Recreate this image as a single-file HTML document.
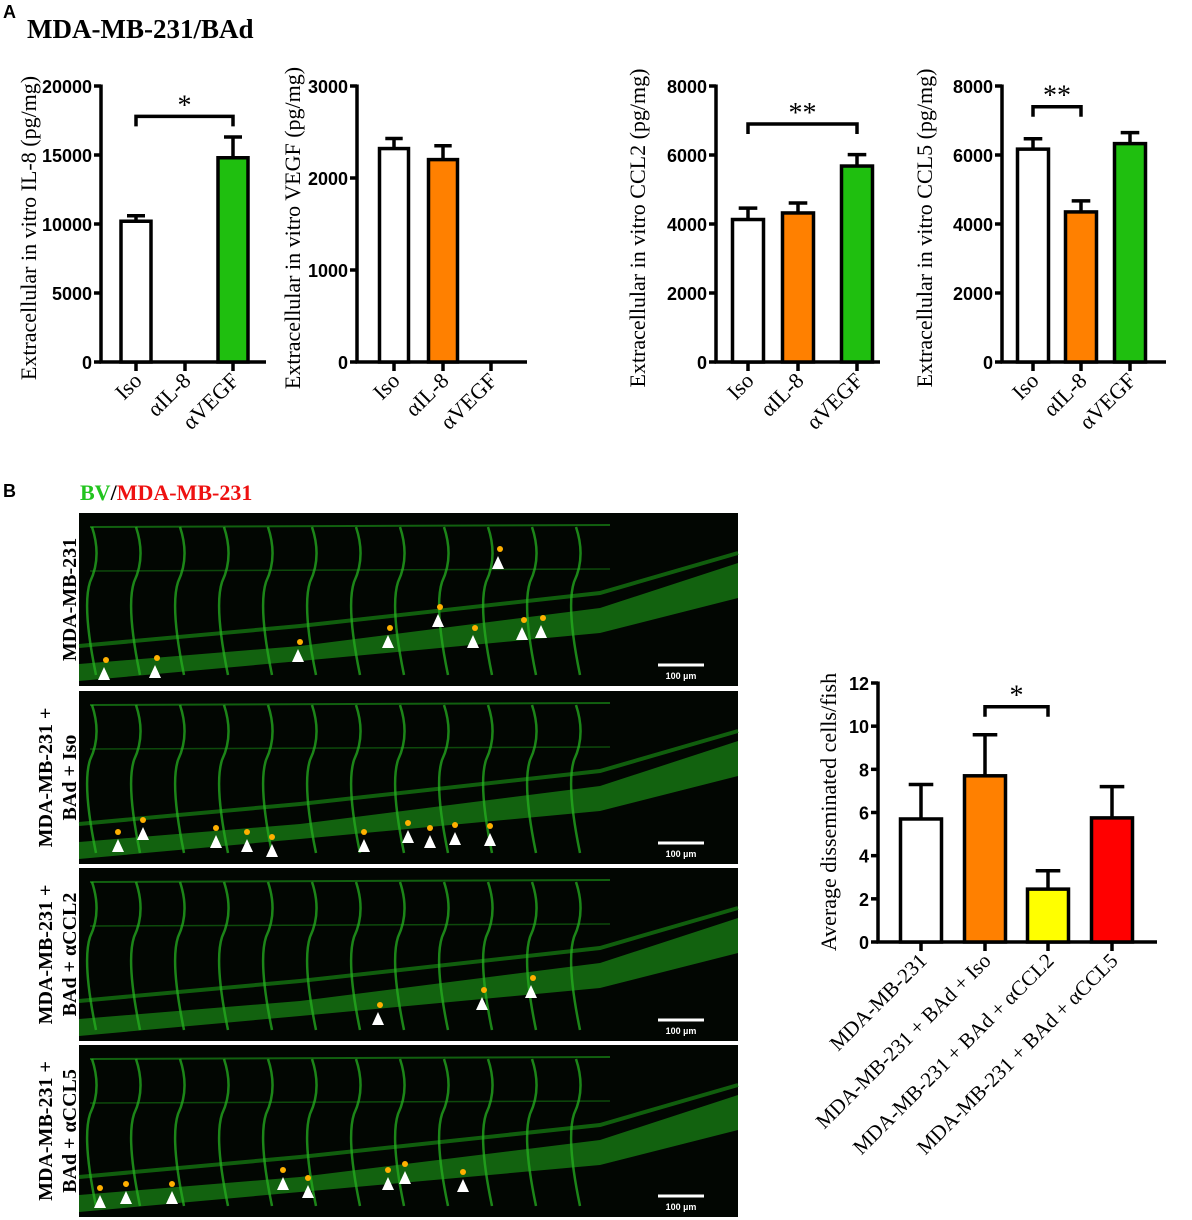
<!DOCTYPE html>
<html><head><meta charset="utf-8">
<style>
html,body{margin:0;padding:0;background:#fff;}
svg{display:block;}
.tick{font-family:"Liberation Sans",Arial,sans-serif;font-weight:bold;font-size:18px;}
.ser{font-family:"Liberation Serif","Times New Roman",serif;}
</style></head>
<body>
<svg id="fig" width="1192" height="1220" viewBox="0 0 1192 1220" xmlns="http://www.w3.org/2000/svg">
<text x="3" y="18" class="tick" font-size="15">A</text>
<text x="27" y="38" class="ser" font-size="27" font-weight="bold">MDA-MB-231/BAd</text>
<text x="3" y="497" class="tick" font-size="16">B</text>
<text x="80" y="500" class="ser" font-size="22" font-weight="bold"><tspan fill="#22c41e">BV</tspan><tspan fill="#000">/</tspan><tspan fill="#ee1111">MDA-MB-231</tspan></text>
<g id="charts"></g>
<g id="fish"></g>
</svg>
<script>
// Chart data
const catsA = ["Iso", "\u03b1IL-8", "\u03b1VEGF"];
const il8Vals = [10200, 0, 14800];
const il8Err = [400, 0, 1500];
const il8Ticks = [0, 5000, 10000, 15000, 20000];
const vegfVals = [2320, 2200, 0];
const vegfErr = [110, 150, 0];
const vegfTicks = [0, 1000, 2000, 3000];
const ccl2Vals = [4130, 4320, 5680];
const ccl2Err = [330, 290, 330];
const ccl5Vals = [6170, 4350, 6330];
const ccl5Err = [300, 320, 320];
const ccTicks = [0, 2000, 4000, 6000, 8000];
const catsB = ["MDA-MB-231", "MDA-MB-231 + BAd + Iso", "MDA-MB-231 + BAd + \u03b1CCL2", "MDA-MB-231 + BAd + \u03b1CCL5"];
const dissVals = [5.7, 7.7, 2.45, 5.75];
const dissErr = [1.6, 1.9, 0.85, 1.45];
const dissTicks = [0, 2, 4, 6, 8, 10, 12];

const NS = "http://www.w3.org/2000/svg";
const root = document.getElementById("charts");
function mk(tag, attrs, parent, txt) {
  const e = document.createElementNS(NS, tag);
  for (const k in attrs) e.setAttribute(k, attrs[k]);
  if (txt !== undefined) e.textContent = txt;
  (parent || root).appendChild(e);
  return e;
}

function chart(cfg) {
  const g = mk("g", {});
  
  
  const max = cfg.ticks[cfg.ticks.length - 1];
  const y = v => cfg.y0 - (v / max) * (cfg.y0 - cfg.yTop);
  const x = i => cfg.centers[i];
  const ax = mk("line", {x1: cfg.ax, x2: cfg.ax, y1: cfg.yTop - 1.5, y2: cfg.y0 + 1.5, stroke: "#000", "stroke-width": 3.5}, g);
  
  
  const xa = mk("line", {x1: cfg.ax - 1.5, x2: cfg.axEnd, y1: cfg.y0, y2: cfg.y0, stroke: "#000", "stroke-width": 3.5}, g);
  
  
  cfg.ticks.forEach(t => {
    mk("line", {x1: cfg.ax - 7, x2: cfg.ax, y1: y(t), y2: y(t), stroke: "#000", "stroke-width": 3.5}, g);
    const tl = mk("text", {x: cfg.ax - 9, y: y(t) + 7, "text-anchor": "end", class: "tick"}, g, String(t));
    
    
  });
  const yt = mk("text", {x: 0, y: 0, "text-anchor": "middle", class: "ser", "font-size": cfg.titleSize || 22,
    transform: `translate(${cfg.titleX},${cfg.titleY}) rotate(-90)`}, g, cfg.title);
  
  
  cfg.vals.forEach((v, i) => {
    mk("line", {x1: x(i), x2: x(i), y1: cfg.y0, y2: cfg.y0 + 9, stroke: "#000", "stroke-width": 3.5}, g);
    if (v > 0) {
      const top = y(v + cfg.err[i]);
      mk("line", {x1: x(i), x2: x(i), y1: y(v), y2: top, stroke: "#000", "stroke-width": 3.5}, g);
      mk("line", {x1: x(i) - cfg.bw * 0.3, x2: x(i) + cfg.bw * 0.3, y1: top, y2: top, stroke: "#000", "stroke-width": 3.5}, g);
      const b = mk("rect", {x: x(i) - cfg.bw / 2, y: y(v), width: cfg.bw, height: cfg.y0 - y(v), fill: cfg.colors[i], stroke: "#000", "stroke-width": 3.5}, g);
      
      
    }
    const lx = x(i) + 7, ly = cfg.y0 + cfg.labOff;
    const cl = mk("text", {x: lx, y: ly, "text-anchor": "end", class: "ser", "font-size": cfg.catSize || 22,
      transform: `rotate(-45 ${lx} ${ly})`}, g, cfg.cats[i]);
    
    
  });
  if (cfg.sig) {
    const [a, b2, yv, lab] = cfg.sig;
    const by = y(yv);
    mk("path", {d: `M${x(a)},${by + 10} V${by} H${x(b2)} V${by + 10}`, fill: "none", stroke: "#000", "stroke-width": 3.5}, g);
    const s = mk("text", {x: (x(a) + x(b2)) / 2, y: by - 2, "text-anchor": "middle", class: "ser", "font-size": 28}, g, lab);
    
    
  }
}

chart({name: "il8-chart", ax: 101, axEnd: 266, yTop: 86, y0: 362, ticks: il8Ticks, vals: il8Vals, err: il8Err,
  centers: [136, 185, 233], bw: 30, colors: ["#fff", "#ff8000", "#1fbf0f"], cats: catsA,
  title: "Extracellular in vitro IL-8 (pg/mg)", titleX: 36, titleY: 228, labOff: 20, sig: [0, 2, 17800, "*"]});
chart({name: "vegf-chart", ax: 357, axEnd: 527, yTop: 86, y0: 362, ticks: vegfTicks, vals: vegfVals, err: vegfErr,
  centers: [394, 443, 491], bw: 29, colors: ["#fff", "#ff8000", "#1fbf0f"], cats: catsA,
  title: "Extracellular in vitro VEGF (pg/mg)", titleX: 300, titleY: 228, labOff: 20});
chart({name: "ccl2-chart", ax: 716, axEnd: 880, yTop: 86, y0: 362, ticks: ccTicks, vals: ccl2Vals, err: ccl2Err,
  centers: [748, 798, 857], bw: 31, colors: ["#fff", "#ff8000", "#1fbf0f"], cats: catsA,
  title: "Extracellular in vitro CCL2 (pg/mg)", titleX: 645, titleY: 228, labOff: 20, sig: [0, 2, 6900, "**"]});
chart({name: "ccl5-chart", ax: 1002, axEnd: 1166, yTop: 86, y0: 362, ticks: ccTicks, vals: ccl5Vals, err: ccl5Err,
  centers: [1033, 1081, 1130], bw: 31, colors: ["#fff", "#ff8000", "#1fbf0f"], cats: catsA,
  title: "Extracellular in vitro CCL5 (pg/mg)", titleX: 932, titleY: 228, labOff: 20, sig: [0, 1, 7400, "**"]});
chart({name: "disseminated-chart", ax: 878, axEnd: 1157, yTop: 683, y0: 942, ticks: dissTicks, vals: dissVals, err: dissErr,
  centers: [921, 985, 1048, 1112], bw: 41, colors: ["#fff", "#ff8000", "#ffff00", "#ff0000"], cats: catsB,
  title: "Average disseminated cells/fish", titleX: 836, titleY: 812, titleSize: 22, catSize: 21, labOff: 20, sig: [1, 2, 10.9, "*"]});

// Microscopy panels (illustrative)
const fish = document.getElementById("fish");
const panels = [
  {y: 513, h: 173, label: ["MDA-MB-231"], arrows: [[104,680,1],[155,678,1],[298,662,0],[388,648,0],[438,627,0],[473,648,0],[522,640,0],[541,638,0],[498,569,0]]},
  {y: 691, h: 173, label: ["MDA-MB-231 +", "BAd + Iso"], arrows: [[118,852,0],[143,840,0],[216,848,1],[247,852,0],[272,857,0],[364,852,0],[408,843,0],[430,848,0],[455,845,0],[490,846,0]]},
  {y: 868, h: 173, label: ["MDA-MB-231 +", "BAd + \u03b1CCL2"], arrows: [[378,1025,0],[482,1010,0],[531,998,0]]},
  {y: 1045, h: 172, label: ["MDA-MB-231 +", "BAd + \u03b1CCL5"], arrows: [[100,1208,1],[126,1204,0],[172,1204,0],[283,1190,0],[308,1198,0],[388,1190,0],[405,1184,0],[463,1192,0]]}
];
panels.forEach((p, k) => {
  const g = mk("g", {}, fish);
  
  
  mk("rect", {x: 79, y: p.y, width: 659, height: p.h, fill: "#020602"}, g);
  const t = p.y, b = p.y + p.h;
  mk("path", {d: `M79,${b-22} L300,${b-40} L600,${t+95} L738,${t+50} L738,${t+85} L600,${t+120} L300,${b-25} L79,${b-5} Z`, fill: "#1a8a16", opacity: 0.7}, g);
  mk("path", {d: `M79,${b-40} L300,${b-60} L600,${t+80} L738,${t+40}`, fill: "none", stroke: "#1b9a16", "stroke-width": 4, opacity: 0.6}, g);
  mk("line", {x1: 90, x2: 610, y1: t+14, y2: t+12, stroke: "#1c9c18", "stroke-width": 2, opacity: 0.6}, g);
  mk("line", {x1: 90, x2: 610, y1: t+58, y2: t+56, stroke: "#1c9c18", "stroke-width": 1.5, opacity: 0.45}, g);
  for (let vx = 92; vx < 620; vx += 44) {
    mk("path", {d: `M${vx},${t+14} q10,30 -2,55 q-8,25 6,${p.h-80}`, fill: "none", stroke: "#25b020", "stroke-width": 2.5, opacity: 0.75}, g);
  }
  p.arrows.forEach(a => {
    const [ax, ay] = a;
    mk("circle", {cx: ax + (k % 2 ? 0 : 2), cy: ay - 20, r: 3, fill: "#ffb000"}, g);
    mk("path", {d: `M${ax-6},${ay} L${ax},${ay-13} L${ax+6},${ay} Z`, fill: "#fff"}, g);
  });
  mk("line", {x1: 658, x2: 704, y1: b-21, y2: b-21, stroke: "#fff", "stroke-width": 3}, g);
  const sb = mk("text", {x: 681, y: b-7, "text-anchor": "middle", fill: "#fff", "font-size": 9, class: "tick", style: "font-size:9px"}, g, "100 \u00b5m");
  
  
  const cy = t + p.h / 2;
  const tx = p.label.length === 1 ? 76 : 52;
  const lt = mk("text", {x: 0, y: 0, "text-anchor": "middle", class: "ser", "font-size": 20, "font-weight": "bold",
    transform: `translate(${tx},${cy}) rotate(-90)`}, g);
  
  
  p.label.forEach((s, i) => mk("tspan", {x: 0, dy: i === 0 ? 0 : 24}, lt, s));
});
</script>
</body></html>
